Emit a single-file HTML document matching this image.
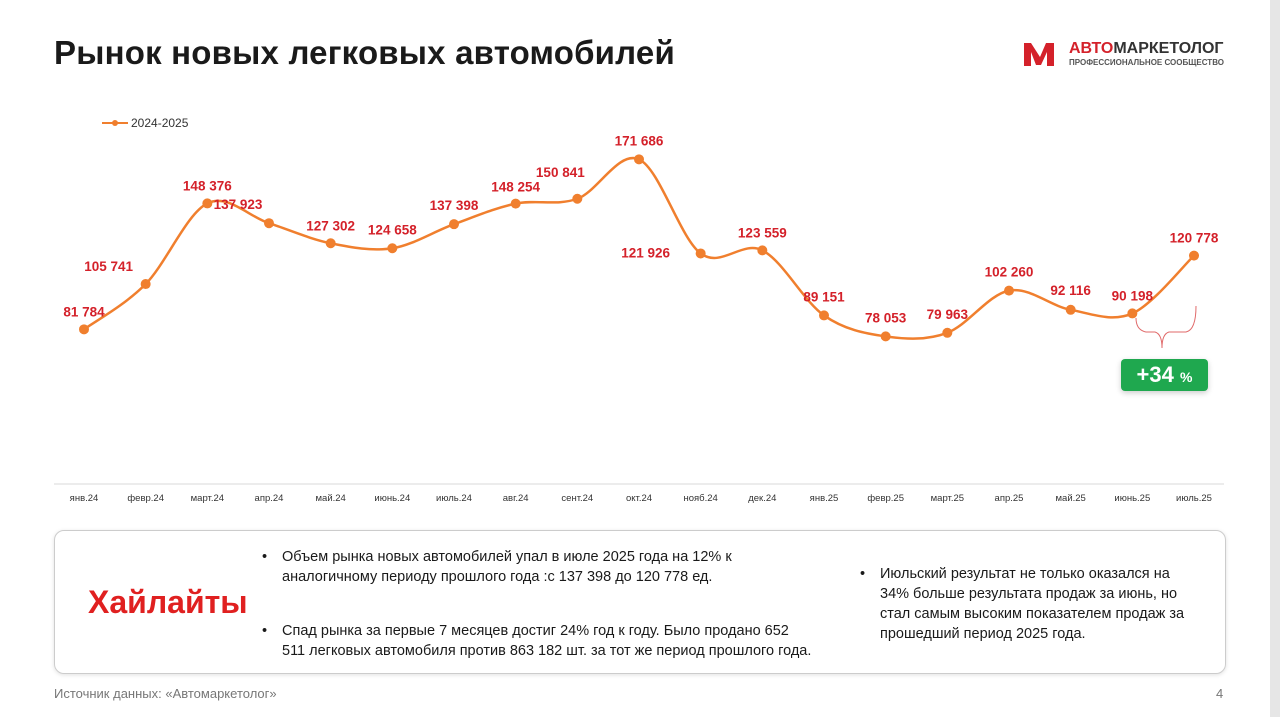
<!DOCTYPE html>
<html><head><meta charset="utf-8"><style>
body{margin:0;width:1280px;height:717px;background:#fff;font-family:"Liberation Sans",sans-serif;position:relative;overflow:hidden}
.t{position:absolute}
</style></head><body>
<div class="t" style="left:1270px;top:0;width:10px;height:717px;background:#e6e6e6"></div>
<div class="t" style="left:54px;top:34px;font-size:33px;font-weight:bold;color:#1a1a1a;letter-spacing:0.2px">Рынок новых легковых автомобилей</div>
<div class="t" style="left:1022px;top:40px;">
<svg width="42" height="28" style="position:absolute;left:0;top:0"><path d="M2 26V3h7l9 14 6-14h8v23h-7V12l-6 13h-5L9 12v14z" fill="#d4212a"/></svg>
<div class="t" style="left:47px;top:0px;font-size:16px;font-weight:bold;color:#333;white-space:nowrap"><span style="color:#d4212a">АВТО</span>МАРКЕТОЛОГ</div>
<div class="t" style="left:47px;top:18px;font-size:8px;color:#555;white-space:nowrap;font-weight:bold">ПРОФЕССИОНАЛЬНОЕ СООБЩЕСТВО</div>
</div>
<svg class="t" style="left:0;top:0" width="1280" height="717" id="chart">
<g>
<line x1="102" y1="123" x2="128" y2="123" stroke="#f07f2e" stroke-width="2"/><circle cx="115" cy="123" r="3" fill="#f07f2e"/>
<text x="131" y="127" font-size="12" fill="#333">2024-2025</text></g>
<line x1="54" y1="484" x2="1224" y2="484" stroke="#d9d9d9"/>
<g id="marks"></g>
<path d="M1136 318 Q1136 330 1146 332 L1155 332 Q1162 334 1162 348 Q1162 334 1169 332 L1186 332 Q1196 330 1196 306" fill="none" stroke="#e06a6a" stroke-width="1"/>
</svg>
<div class="t" style="left:1121px;top:359px;width:87px;height:32px;background:#1fa84f;border-radius:4px;color:#fff;font-weight:bold;font-size:22px;line-height:32px;text-align:center;box-shadow:0 2px 6px rgba(0,0,0,.2)">+34 <span style="font-size:14px">%</span></div>
<div class="t" style="left:54px;top:530px;width:1170px;height:142px;border:1px solid #ccc;border-radius:10px;box-shadow:0 1px 4px rgba(0,0,0,.12)"></div>
<div class="t" style="left:88px;top:584px;font-size:32px;font-weight:bold;color:#e02020">Хайлайты</div>
<div class="t" style="left:262px;top:547px;width:510px;font-size:14.5px;line-height:20px;color:#1a1a1a;padding-left:20px">
<span style="position:absolute;left:0">•</span>Объем рынка новых автомобилей упал в июле 2025 года на 12% к аналогичному периоду прошлого года :с 137 398 до 120 778 ед.</div>
<div class="t" style="left:262px;top:621px;width:530px;font-size:14.5px;line-height:20px;color:#1a1a1a;padding-left:20px">
<span style="position:absolute;left:0">•</span>Спад рынка за первые 7 месяцев достиг 24% год к году. Было продано 652 511 легковых автомобиля против 863 182 шт. за тот же период прошлого года.</div>
<div class="t" style="left:860px;top:564px;width:310px;font-size:14.5px;line-height:20px;color:#1a1a1a;padding-left:20px">
<span style="position:absolute;left:0">•</span>Июльский результат не только оказался на 34% больше результата продаж за июнь, но стал самым высоким показателем продаж за прошедший период 2025 года.</div>
<div class="t" style="left:54px;top:686px;font-size:13px;color:#777">Источник данных: «Автомаркетолог»</div>
<div class="t" style="left:1216px;top:686px;font-size:13px;color:#777">4</div>
<script>
const categories=["янв.24","февр.24","март.24","апр.24","май.24","июнь.24","июль.24","авг.24","сент.24","окт.24","нояб.24","дек.24","янв.25","февр.25","март.25","апр.25","май.25","июнь.25","июль.25"];
const values=[81784,105741,148376,137923,127302,124658,137398,148254,150841,171686,121926,123559,89151,78053,79963,102260,92116,90198,120778];
const valueLabels=["81 784","105 741","148 376","137 923","127 302","124 658","137 398","148 254","150 841","171 686","121 926","123 559","89 151","78 053","79 963","102 260","92 116","90 198","120 778"];
const labelDx=[0,-37,0,-31,0,0,0,0,-17,0,-55,0,0,0,0,0,0,0,0];
const labelDy=[-18,-18,-18,-19,-18,-19,-19,-17,-27,-19,-1,-18,-19,-19,-19,-19,-20,-18,-18];
const x=i=>84+i*(1194-84)/(categories.length-1);
const y=v=>484-v*0.001891;
const ns="http://www.w3.org/2000/svg",g=document.getElementById('marks');
function mk(t,a){const e=document.createElementNS(ns,t);for(const k in a)e.setAttribute(k,a[k]);g.appendChild(e);return e;}
const P=values.map((v,i)=>[x(i),y(v)]);
let d="M"+P[0][0]+" "+P[0][1];
for(let i=0;i<P.length-1;i++){const p0=P[Math.max(i-1,0)],p1=P[i],p2=P[i+1],p3=P[Math.min(i+2,P.length-1)];const t=6;
d+=` C${p1[0]+(p2[0]-p0[0])/t} ${p1[1]+(p2[1]-p0[1])/t} ${p2[0]-(p3[0]-p1[0])/t} ${p2[1]-(p3[1]-p1[1])/t} ${p2[0]} ${p2[1]}`;}
const line=mk('path',{d:d,fill:'none',stroke:'#f07f2e','stroke-width':2.5});


values.forEach((v,i)=>{
const c=mk('circle',{cx:P[i][0],cy:P[i][1],r:5,fill:'#f07f2e'});


const l=mk('text',{x:P[i][0]+labelDx[i],y:P[i][1]+labelDy[i]+5,'font-size':13.5,'font-weight':'bold',fill:'#d4212a','text-anchor':'middle'});
l.textContent=valueLabels[i];


const tk=mk('text',{x:P[i][0],y:501,'font-size':9.5,fill:'#333','text-anchor':'middle'});
tk.textContent=categories[i];


});
</script>
</body></html>
